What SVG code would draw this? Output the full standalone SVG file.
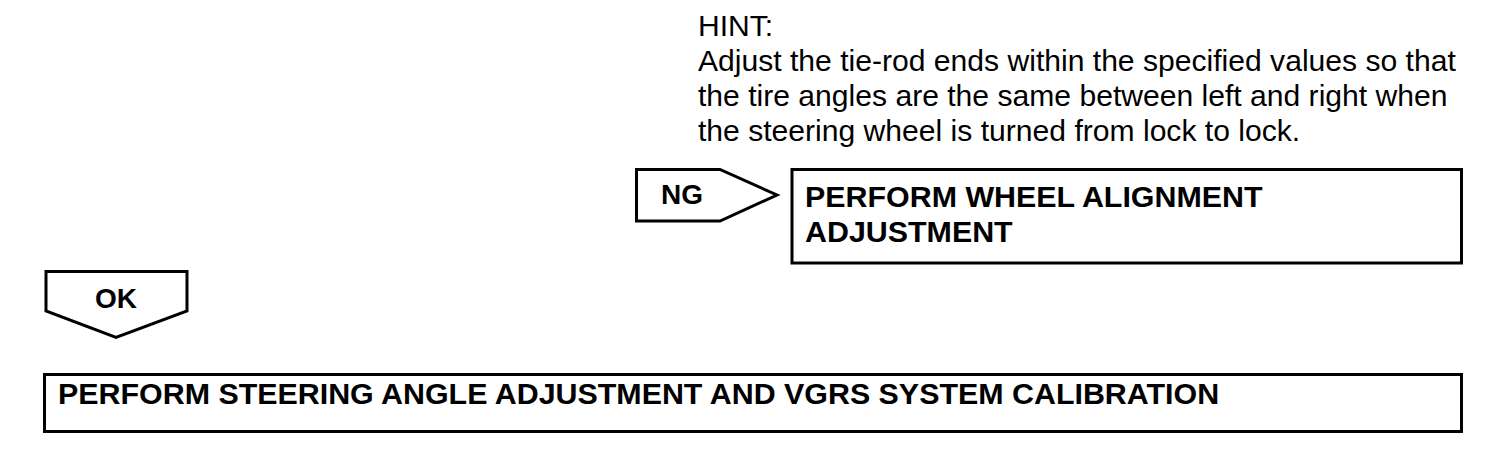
<svg xmlns="http://www.w3.org/2000/svg" width="1504" height="462" viewBox="0 0 1504 462">
<style>
.box{fill:#fff;stroke:#000;stroke-width:3}
.tag{fill:#fff;stroke:#000;stroke-width:3;stroke-linejoin:miter}
.b{font-family:"Liberation Sans",Arial,sans-serif;font-weight:bold;font-size:30.4px;fill:#000}
.t{font-family:"Liberation Sans",Arial,sans-serif;font-weight:bold;font-size:28px;fill:#000}
.h{font-family:"Liberation Sans",Arial,sans-serif;font-size:30.1px;fill:#000}
</style>
<rect width="1504" height="462" fill="#fff"/>
<g id="hint">
<text class="h" x="698" y="36">HINT:</text>
<text class="h" x="698" y="71">Adjust the tie-rod ends within the specified values so that</text>
<text class="h" x="698" y="106">the tire angles are the same between left and right when</text>
<text class="h" x="698" y="141">the steering wheel is turned from lock to lock.</text>
</g>
<g id="connectors">
<g id="ng-tag">
<polygon class="tag" points="636.5,169.5 720,169.5 777,195 720,221 636.5,221"/>
<text class="t" x="682" y="204" text-anchor="middle">NG</text>
</g>
<g id="ok-tag">
<polygon class="tag" points="46,271.5 187,271.5 187,311 116,337.5 46,311"/>
<text class="t" x="116" y="308" text-anchor="middle">OK</text>
</g>
</g>
<g id="wheel-alignment">
<rect class="box" x="792" y="169.5" width="669.5" height="93.5"/>
<text class="b" x="805" y="207">PERFORM WHEEL ALIGNMENT</text>
<text class="b" x="805" y="242">ADJUSTMENT</text>
</g>
<g id="steering-angle">
<rect class="box" x="44.5" y="374.5" width="1417" height="57"/>
<text class="b" x="58" y="404">PERFORM STEERING ANGLE ADJUSTMENT AND VGRS SYSTEM CALIBRATION</text>
</g>
</svg>
